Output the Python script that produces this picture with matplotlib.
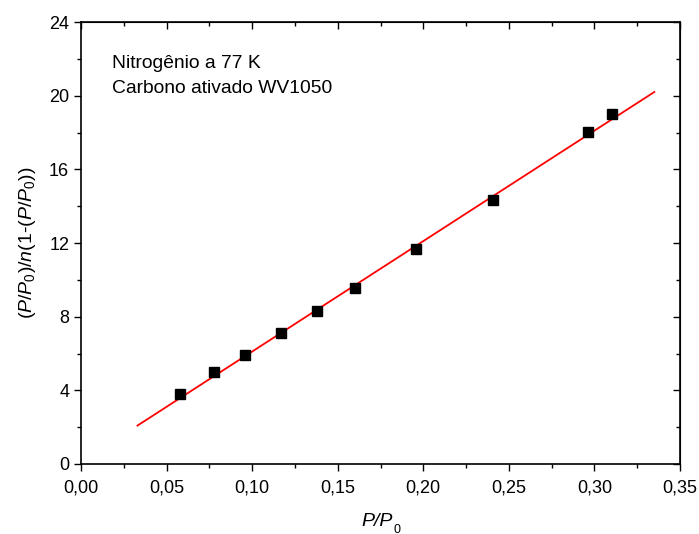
import matplotlib
matplotlib.use("Agg")
import matplotlib.pyplot as plt
from matplotlib.ticker import MultipleLocator, FormatStrFormatter
import numpy as np

plt.rcParams['font.family'] = ['Liberation Sans', 'DejaVu Sans']
plt.rcParams['mathtext.fontset'] = 'custom'
plt.rcParams['mathtext.rm'] = 'Liberation Sans'
plt.rcParams['mathtext.it'] = 'Liberation Sans:italic'

# BET points, nitrogen at 77 K on activated carbon
p_rel = [0.058, 0.078, 0.096, 0.117, 0.138, 0.160, 0.196, 0.241, 0.296, 0.310]
bet_y = [3.80, 4.99, 5.92, 7.11, 8.31, 9.55, 11.67, 14.33, 18.02, 19.00]

# linear fit
fit_slope = 59.98
fit_intercept = 0.107
fit_range = [0.033, 0.335]

fig = plt.figure(figsize=(6.99, 5.34), dpi=100)
ax = fig.add_axes([81 / 699, 1 - 464 / 534, 599 / 699, 442 / 534])

fx = np.array(fit_range)
ax.plot(fx, fit_slope * fx + fit_intercept, color='red', lw=1.3, zorder=2)
ax.plot(p_rel, bet_y, 's', color='black', ms=7, zorder=3)

ax.set_xlim(0, 0.35)
ax.set_ylim(0, 24)
ax.xaxis.set_major_locator(MultipleLocator(0.05))
ax.xaxis.set_minor_locator(MultipleLocator(0.025))
ax.yaxis.set_major_locator(MultipleLocator(4))
ax.yaxis.set_minor_locator(MultipleLocator(2))
ax.xaxis.set_major_formatter(lambda v, pos: f"{v:.2f}".replace('.', ','))
ax.yaxis.set_major_formatter(FormatStrFormatter('%d'))

for s in ax.spines.values():
    s.set_linewidth(1.2)
ax.tick_params(which='both', direction='out', width=1.0, labelsize=13,
               top=False, right=False)
ax.tick_params(which='major', length=5)
ax.tick_params(which='minor', length=3)
ax.tick_params(axis='x', pad=6)

# inward ticks on the top and right edges
ax_top = ax.secondary_xaxis('top')
ax_top.xaxis.set_major_locator(MultipleLocator(0.05))
ax_top.xaxis.set_minor_locator(MultipleLocator(0.025))
ax_top.tick_params(which='both', direction='in', labeltop=False, width=1.0)
ax_top.tick_params(which='major', length=5)
ax_top.tick_params(which='minor', length=3)
ax_right = ax.secondary_yaxis('right')
ax_right.yaxis.set_major_locator(MultipleLocator(4))
ax_right.yaxis.set_minor_locator(MultipleLocator(2))
ax_right.tick_params(which='both', direction='in', labelright=False, width=1.0)
ax_right.tick_params(which='major', length=5)
ax_right.tick_params(which='minor', length=3)

# x label: italic P/P with a small, low subscript 0
ax.text(0.494, -0.140, 'P/P', transform=ax.transAxes, fontsize=14,
        style='italic', ha='center', va='baseline')
ax.text(0.521, -0.155, '0', transform=ax.transAxes, fontsize=9,
        ha='left', va='baseline')

ax.set_ylabel(r'$(P/P_{\mathit{0}})/n(1$-$(P/P_{\mathit{0}}))$', fontsize=14, labelpad=8)

ax.text(0.0181, 21.50, 'Nitrogênio a 77 K', fontsize=13.9, va='baseline', ha='left')
ax.text(0.0181, 20.14, 'Carbono ativado WV1050', fontsize=13.9, va='baseline', ha='left')

fig.savefig('out.png', dpi=100)
